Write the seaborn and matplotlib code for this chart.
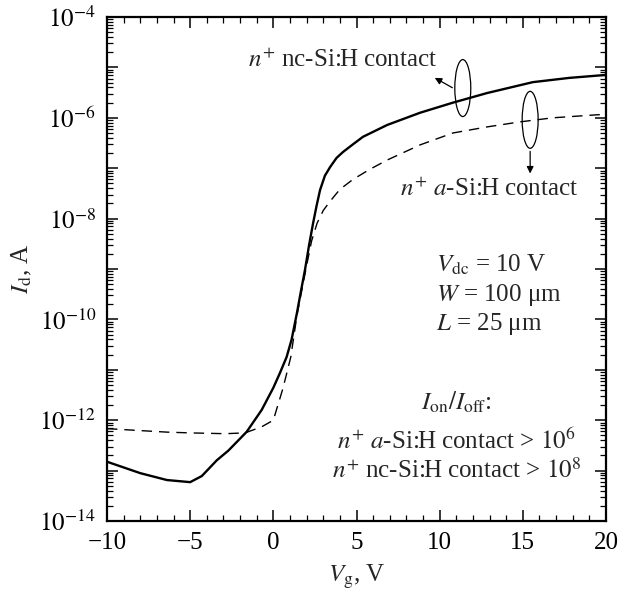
import numpy as np
import pandas as pd
import matplotlib
matplotlib.use("Agg")
import matplotlib.pyplot as plt
import seaborn as sns
from matplotlib.patches import Ellipse
from matplotlib.ticker import LogLocator, MultipleLocator, FixedLocator, NullFormatter

# ---- data ----
vg_nc = [-10, -8, -6.4, -5, -4.3, -3.4, -2.7, -1.6, -0.7, 0, 0.4, 0.8, 1.1, 1.42, 1.65,
         1.9, 2.15, 2.39, 2.6, 2.81, 3.1, 3.41, 3.8, 4.19, 4.8, 5.39, 6.84, 8.82, 10.8,
         12.85, 15.6, 17.8, 20]
id_nc = [1.5e-13, 8.9e-14, 6.5e-14, 5.9e-14, 7.8e-14, 1.6e-13, 2.5e-13, 5.9e-13, 1.6e-12,
         4.4e-12, 8.7e-12, 1.8e-11, 4.0e-11, 1.35e-10, 3.5e-10, 9.5e-10, 3.0e-9, 8.1e-9,
         1.8e-8, 3.7e-8, 7.1e-8, 1.05e-7, 1.6e-7, 2.1e-7, 3.0e-7, 4.2e-7, 7.2e-7, 1.26e-6,
         2.0e-6, 3.1e-6, 5.1e-6, 6.2e-6, 7.1e-6]
vg_a = [-10, -6.4, -5, -2.9, -1.7, -0.7, 0, 0.55, 0.75, 1.05, 1.42, 1.75, 2.03, 2.3, 2.63,
        3.0, 3.41, 4.0, 4.79, 5.8, 6.84, 8.82, 10.8, 12.85, 14.83, 16.8, 19.5, 20]
id_a = [6.8e-13, 5.8e-13, 5.6e-13, 5.4e-13, 5.6e-13, 7.4e-13, 1.0e-12, 4.0e-12, 7.2e-12,
        1.8e-11, 1.2e-10, 4.4e-10, 1.3e-9, 3.6e-9, 8.1e-9, 1.45e-8, 2.2e-8, 3.8e-8, 6.0e-8,
        9.5e-8, 1.45e-7, 2.9e-7, 5.0e-7, 6.6e-7, 8.3e-7, 1.0e-6, 1.15e-6, 1.16e-6]
xticks = [-10, -5, 0, 5, 10, 15, 20]
ytick_exps = [-14, -12, -10, -8, -6, -4]

sns.set_theme(style="ticks")
plt.rcParams['font.family'] = ['Liberation Serif', 'DejaVu Serif']
plt.rcParams['mathtext.fontset'] = 'stix'

fig = plt.figure(figsize=(6.25, 5.97), dpi=100)
ax = fig.add_axes([0.1712, 0.1273, 0.7984, 0.8442])

df_nc = pd.DataFrame({"Vg": vg_nc, "Id": id_nc})
df_a = pd.DataFrame({"Vg": vg_a, "Id": id_a})
sns.lineplot(data=df_nc, x="Vg", y="Id", ax=ax, color="black", lw=1.7, sort=False)
sns.lineplot(data=df_a, x="Vg", y="Id", ax=ax, color="black", lw=1.0, sort=False,
             linestyle=(0, (7.5, 5)))

ax.set_yscale("log")
ax.set_xlim(-10, 20)
ax.set_ylim(1e-14, 1e-4)

ax.set_xticks(xticks)
ax.set_xticklabels(["\u221210" if t == -10 else ("\u22125" if t == -5 else str(t)) for t in xticks])
ax.xaxis.set_minor_locator(MultipleLocator(1))
ax.yaxis.set_major_locator(FixedLocator([10.0**e for e in range(-14, -3)]))
ax.set_yticklabels(["$10^{%d}$" % e if e in ytick_exps else "" for e in range(-14, -3)])
ax.yaxis.set_minor_locator(LogLocator(base=10, subs=np.arange(2, 10), numticks=100))
ax.yaxis.set_minor_formatter(NullFormatter())

ax.tick_params(which="both", direction="in", top=True, right=True, labelsize=18, colors="black")
ax.tick_params(which="major", length=8, width=1.1, pad=8)
ax.tick_params(which="minor", length=4, width=0.9)
for s in ax.spines.values():
    s.set_linewidth(1.6)
    s.set_color("black")

ax.set_xlabel("$V_{\\mathrm{g}}$, V", fontsize=18, labelpad=6)
ax.set_ylabel("$I_{\\mathrm{d}}$, A", fontsize=18, labelpad=4)

tr = ax.transAxes
ax.add_patch(Ellipse((0.713, 0.859), 0.032, 0.113, transform=tr, fill=False, lw=0.9, ec="black"))
ax.add_patch(Ellipse((0.848, 0.796), 0.032, 0.113, transform=tr, fill=False, lw=0.9, ec="black"))
ax.annotate("", xy=(0.652, 0.882), xytext=(0.697, 0.857), xycoords=tr, textcoords=tr,
            arrowprops=dict(arrowstyle="-|>", lw=0.9, color="black", mutation_scale=10))
ax.annotate("", xy=(0.848, 0.684), xytext=(0.848, 0.739), xycoords=tr, textcoords=tr,
            arrowprops=dict(arrowstyle="-|>", lw=0.9, color="black", mutation_scale=10))

ax.text(0.473, 0.901, "$n^{+}$ nc-Si:H contact", transform=tr, fontsize=18, ha="center", va="baseline")
ax.text(0.765, 0.645, "$n^{+}$ $a$-Si:H contact", transform=tr, fontsize=18, ha="center", va="baseline")

ax.text(0.66, 0.494, "$V_{\\mathrm{dc}}$ = 10 V", transform=tr, fontsize=18, ha="left", va="baseline")
ax.text(0.66, 0.437, "$W$ = 100 \u03bcm", transform=tr, fontsize=18, ha="left", va="baseline")
ax.text(0.66, 0.378, "$L$ = 25 \u03bcm", transform=tr, fontsize=18, ha="left", va="baseline")

ax.text(0.70, 0.220, "$I_{\\mathrm{on}}/I_{\\mathrm{off}}$:", transform=tr, fontsize=18, ha="center", va="baseline")
ax.text(0.70, 0.143, "$n^{+}$ $a$-Si:H contact > $10^{6}$", transform=tr, fontsize=18, ha="center", va="baseline")
ax.text(0.70, 0.085, "$n^{+}$ nc-Si:H contact > $10^{8}$", transform=tr, fontsize=18, ha="center", va="baseline")

fig.savefig("out.png", dpi=100)
